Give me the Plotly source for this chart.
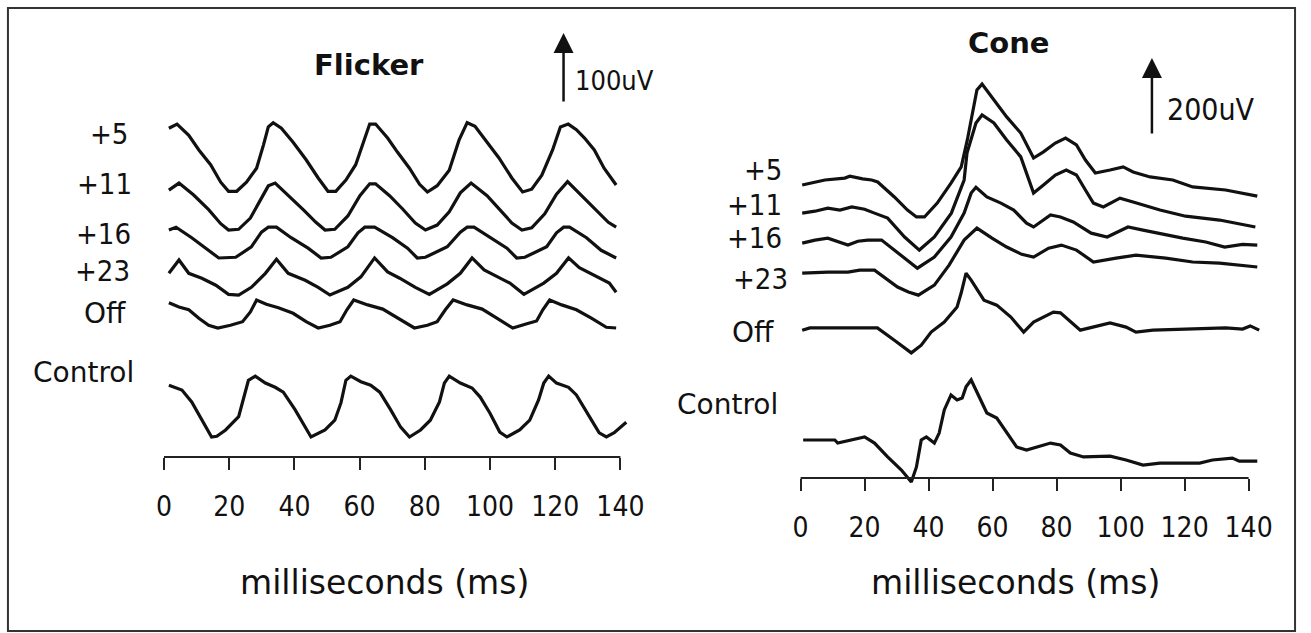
import plotly.graph_objects as go

W, H = 1311, 633

# ---------------- data (ms, amplitude in uV relative to each trace's own baseline) -------------
LABELS = ["+5", "+11", "+16", "+23", "Off", "Control"]
TICKS = [0, 20, 40, 60, 80, 100, 120, 140]
PANEL_TITLES = ["Flicker", "Cone"]
SCALE_BAR_UV = [100, 200]

# Flicker panel
F5_T = [1.5,4,7.6,10.7,14.3,17.4,19.8,22.3,25.3,28.4,30.5,32,33.5,36,39.6,43.6,47.3,50.3,52.7,55.8,58.8,61.3,63.1,64.9,68.6,71.6,75.3,78.4,80.8,83.8,87.5,90.5,93,95.4,99,102.7,106.7,110,112.8,115.9,119.2,121.6,124,126.5,129,132,135,138.7]
F5_V = [91,97,81,60,39,14,1,1,14,34,67,93,99,91,71,46,20,1,1,17,39,74,97,97,77,57,34,11,0,9,31,74,99,94,71,49,20,0,4,24,60,93,97,89,77,60,34,10]
F11_T = [1.5,4.6,9.1,13.7,17.4,19.8,22.9,26.5,29.6,32,34.1,38.1,42.7,46.6,49.4,52.4,56.4,60.1,63.1,64.9,69.2,73.2,77.1,80.2,83.8,87.5,90.9,94.2,99.1,103,106.7,109.8,112.8,116.8,120.4,123.8,128,132.6,136.3,138.7]
F11_V = [57,67,50,29,9,0,1,17,43,63,67,50,29,11,0,1,20,49,66,66,49,30,10,0,7,26,53,67,49,29,10,0,3,23,51,69,50,29,11,4]
F16_T = [1.5,3.7,8.5,13.7,16.8,22,26.8,29.9,32,34.5,39,44.2,48.2,51.2,56.4,59.5,61.6,64.6,70.1,74.7,77.7,80.2,86.9,90.9,93,95.1,101.2,105.2,108.2,110.7,117.4,120.4,122.6,124.4,129.6,134.1,138.7]
F16_V = [40,44,29,11,0,1,16,37,44,44,29,14,0,1,16,36,44,44,29,14,0,1,16,37,44,44,26,14,0,1,16,36,44,44,29,11,0]
F23_T = [1.5,4.6,7.6,11.6,15.9,19.8,22.9,26.8,31.1,34.5,38.1,43.3,47.3,50.9,56.4,60.4,64.6,68.6,72.3,77.1,81.4,86.9,90.9,94.5,98.2,102.1,106.1,110.4,116.5,120.4,124.1,127.4,132.6,136.6,138.7]
F23_V = [31,50,31,24,14,1,0,11,31,51,31,21,11,0,11,26,53,33,24,11,1,16,31,53,36,26,17,1,17,31,53,39,26,17,4]
FOFF_T = [1.5,4.6,7.6,10.7,13.7,16.5,20.4,24.1,26.5,28.4,31.4,35.1,39.6,43.6,47.3,50.9,54,56.1,58.2,62.5,67.1,71.6,76.8,80.8,83.8,86.3,88.7,93,97.6,102.1,107,111.3,114.3,116.2,118.3,122,126.5,131.1,135.7,138.7]
FOFF_V = [36,30,26,14,4,0,4,9,23,40,34,29,21,9,0,4,9,26,40,33,27,14,0,4,9,26,40,33,27,14,0,6,10,26,40,33,26,14,1,0]
FCTL_T = [1.5,5.5,8.5,11.6,14.6,16.2,18.9,22.9,24.4,25.9,28,31.1,34.1,36.6,40.2,43.3,45.1,49.4,52.4,54.3,55.8,57.3,60.4,63.4,66.2,69.5,72.6,75.3,78.7,81.7,84.5,86,87.5,90.9,94.5,97,100,103,105.2,109.1,112.2,114.9,116.5,118,120.4,124.1,126.5,130.5,133.5,135.7,138.1,141.8]
FCTL_V = [74,67,50,24,0,1,10,29,57,81,87,77,71,64,39,14,0,10,24,49,81,87,79,74,64,39,14,0,10,24,50,77,87,77,70,57,34,7,0,10,24,53,77,87,77,71,60,29,6,0,6,21]

# Cone panel
C5_T = [0.5,7.6,13.8,15.4,19.4,22.2,24.1,29.3,33.4,36.2,38.7,42.7,47,50.2,52.1,53.6,55.1,56.7,60.4,64.4,68.8,72.8,75.9,79.6,82.8,86.2,89,92.1,96.7,100.8,103.9,109.2,116.3,122.5,132.8,142.7]
C5_V = [0,13,18,23,16,13,8,-31,-65,-83,-83,-47,5,47,117,187,247,262,221,177,135,70,86,109,122,104,65,31,39,47,34,21,13,-5,-13,-29]
C11_T = [0.5,4.5,8.5,12.3,16,20,23.1,27.2,32.5,37.1,41.8,47.1,51.1,52,54.8,56.7,60.4,64.4,68.8,72.8,75.9,79.6,83,86.2,89,91.5,94.6,99.8,103.9,112.3,120.3,130.9,142.1]
C11_V = [0,5,13,8,16,10,0,-13,-62,-96,-62,0,86,156,234,255,234,190,146,52,73,99,112,99,60,26,16,39,29,8,-8,-18,-36]
C16_T = [0.5,4.5,8.5,11.6,14.8,17.9,21,25.3,29.3,33.4,36.5,41.8,47,51.1,53.3,54.8,58.2,62.6,66.6,70.6,72.8,78.1,81.2,85.2,90.8,95.8,102.3,107,114.1,119.4,126.6,132.5,138.1,142.7]
C16_V = [0,8,13,5,-5,5,8,8,-18,-44,-65,-36,16,78,130,145,120,104,86,52,42,73,68,55,26,16,42,34,21,13,3,-10,-3,-5]
C23_T = [0.5,8.5,14.8,18.5,23.1,26.2,30.3,33.7,36.8,41.8,46.4,51.1,55.1,59.8,64.4,69.1,72.8,77.5,81.5,86.2,91.5,98.6,104.8,114.1,122.5,130.9,142.7]
C23_V = [0,3,3,8,8,-10,-36,-49,-57,-31,21,86,117,91,68,49,42,65,73,60,29,39,47,39,29,26,16]
COFF_T = [0.5,2.9,6.6,24,29.3,33.4,34.6,37.7,40.8,44.9,48.9,50.2,51.7,53.3,57.3,61.3,65.7,69.7,72.8,79,81.2,87.4,91.5,96.7,101.7,104.8,110.1,122.5,132.8,138.1,140.5,143.3]
COFF_V = [-3,3,3,3,-29,-55,-62,-42,-8,18,57,94,145,127,75,62,31,-8,18,44,42,-3,5,16,5,-8,-3,0,3,0,8,-3]
CCTL_T = [0.8,10.7,11.6,15.4,20,23.1,27.2,31.5,34.6,36.2,37.7,39.3,41.8,43.3,44.9,47,48.9,50.5,51.7,53.3,56.4,58.2,61.3,64.4,67.5,70.6,73.8,78.1,81.2,84.3,88.4,96.7,101.7,107,112.3,124.7,128.7,134.9,137.1,142.7]
CCTL_V = [0,0,-8,0,8,-8,-44,-78,-109,-70,0,8,-8,18,78,117,104,109,138,156,104,70,57,18,-18,-26,-18,-8,-13,-34,-44,-42,-52,-65,-60,-60,-52,-47,-55,-55]

FLICKER = [(F5_T, F5_V), (F11_T, F11_V), (F16_T, F16_V), (F23_T, F23_V), (FOFF_T, FOFF_V), (FCTL_T, FCTL_V)]
CONE = [(C5_T, C5_V), (C11_T, C11_V), (C16_T, C16_V), (C23_T, C23_V), (COFF_T, COFF_V), (CCTL_T, CCTL_V)]

# ---------------- layout constants (pixels of the 1311x633 page) ----------------
# vertical stacking offsets of each trace (uV) -- layout, not data
FLICKER_OFFSETS = [378.6, 324.3, 284.3, 231.4, 184.3, 28.6]
CONE_OFFSETS = [761, 688, 610, 532, 387, 98.7]

TXT_DY = 0

PANELS = [
    dict(x0px=165, sx=3.28, left=150, right=640, zero=457, sy=0.70, bottom=462, top=20,
         label_pos=[(131, 134), (135, 184), (134, 234), (133, 271), (129, 313), (137, 372)],
         title_pos=(371, 65), bar_x=567, bar_tail=103, bar_text=(577, 80, 27),
         xtitle=(387, 582)),
    dict(x0px=805.5, sx=3.22, left=790, right=1275, zero=478, sy=0.385, bottom=486, top=20,
         label_pos=[(789, 170), (789, 205), (789, 238), (795, 279), (781, 332), (785, 404)],
         title_pos=(1015, 43), bar_x=1159, bar_tail=135, bar_text=(1172, 110, 30),
         xtitle=(1022, 582)),
]

NUM_FONT = "DejaVu Sans Condensed, DejaVu Sans, sans-serif"
TXT_FONT = "DejaVu Sans, sans-serif"
INK = "#111111"


def px_x(p):
    return p / W


def px_y(p):
    return 1 - p / H


fig = go.Figure()
annotations = []
shapes = []

for i, (series, offsets, P) in enumerate(zip([FLICKER, CONE], [FLICKER_OFFSETS, CONE_OFFSETS], PANELS)):
    xa = "x" if i == 0 else "x2"
    ya = "y" if i == 0 else "y2"
    xkey = "xaxis" if i == 0 else "xaxis2"
    ykey = "yaxis" if i == 0 else "yaxis2"

    for (t, v), off, name in zip(series, offsets, LABELS):
        assert len(t) == len(v)
        fig.add_trace(go.Scatter(
            x=t, y=[val + off for val in v], mode="lines", name=name,
            line=dict(color=INK, width=3.2, shape="linear"),
            xaxis=xa, yaxis=ya, showlegend=False, hoverinfo="skip"))

    xrange = [(P["left"] - P["x0px"]) / P["sx"], (P["right"] - P["x0px"]) / P["sx"]]
    yrange = [-(P["bottom"] - P["zero"]) / P["sy"], (P["zero"] - P["top"]) / P["sy"]]

    fig.update_layout(**{
        xkey: dict(domain=[px_x(P["left"]), px_x(P["right"])], range=xrange,
                   anchor="free", position=px_y(P["zero"]),
                   showline=False, showgrid=False, zeroline=False,
                   tickvals=TICKS, ticktext=[str(t) for t in TICKS],
                   ticks="outside", ticklen=12, tickwidth=2, tickcolor="#222222",
                   ticklabelstandoff=12,
                   tickfont=dict(family=NUM_FONT, size=28, color=INK)),
        ykey: dict(domain=[px_y(P["bottom"]), px_y(P["top"])], range=yrange,
                   visible=False, showgrid=False, zeroline=False),
    })

    # x axis baseline from first to last tick
    shapes.append(dict(type="line", xref=xa, yref=ya, x0=TICKS[0], x1=TICKS[-1], y0=0, y1=0,
                       line=dict(color="#222222", width=2)))

    # trace labels
    for name, (rx, cy) in zip(LABELS, P["label_pos"]):
        is_num = name.startswith("+")
        annotations.append(dict(text=name, x=px_x(rx), y=px_y(cy + TXT_DY), xref="paper", yref="paper",
                                xanchor="right", yanchor="middle", showarrow=False,
                                font=dict(family=NUM_FONT if is_num else TXT_FONT,
                                          size=29 if is_num else 28, color=INK)))

    # panel title
    tx, ty = P["title_pos"]
    annotations.append(dict(text="<b>%s</b>" % PANEL_TITLES[i], x=px_x(tx), y=px_y(ty + TXT_DY),
                            xref="paper", yref="paper", xanchor="center", yanchor="middle",
                            showarrow=False, font=dict(family=TXT_FONT, size=29, color=INK)))

    # scale bar arrow (length = SCALE_BAR_UV in data units)
    bx = (P["bar_x"] - P["x0px"]) / P["sx"]
    tail = (P["zero"] - P["bar_tail"]) / P["sy"]
    annotations.append(dict(text="", x=bx, y=tail + SCALE_BAR_UV[i], ax=bx, ay=tail,
                            xref=xa, yref=ya, axref=xa, ayref=ya, showarrow=True,
                            arrowhead=2, arrowsize=1.6, arrowwidth=2.5, arrowcolor=INK,
                            standoff=0, startstandoff=0))
    sx_, sy_, sz = P["bar_text"]
    annotations.append(dict(text="%duV" % SCALE_BAR_UV[i], x=px_x(sx_), y=px_y(sy_ + TXT_DY),
                            xref="paper", yref="paper", xanchor="left", yanchor="middle",
                            showarrow=False, font=dict(family=NUM_FONT, size=sz, color=INK)))

    # x axis title
    ax_, ay_ = P["xtitle"]
    annotations.append(dict(text="milliseconds (ms)", x=px_x(ax_), y=px_y(ay_ + TXT_DY),
                            xref="paper", yref="paper", xanchor="center", yanchor="middle",
                            showarrow=False, font=dict(family=TXT_FONT, size=33, color=INK)))

# outer frame
shapes.append(dict(type="rect", xref="paper", yref="paper",
                   x0=px_x(8), x1=px_x(1303), y0=px_y(631), y1=px_y(8),
                   line=dict(color="#333333", width=2), fillcolor="rgba(0,0,0,0)"))

fig.update_layout(width=W, height=H, margin=dict(l=0, r=0, t=0, b=0),
                  paper_bgcolor="white", plot_bgcolor="rgba(0,0,0,0)",
                  annotations=annotations, shapes=shapes)

fig.write_html("out.html", config={"displayModeBar": False},
               post_script="document.body.style.margin='0px';")
